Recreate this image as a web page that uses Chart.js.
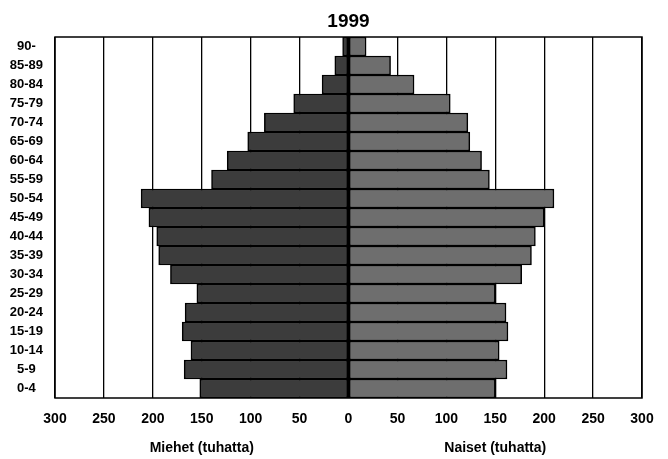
<!DOCTYPE html>
<html>
<head>
<meta charset="utf-8">
<script src="https://cdn.jsdelivr.net/npm/chart.js@4/dist/chart.umd.min.js"></script>
<style>
    html, body { margin: 0; padding: 0; background: #fff; }
    #wrap { width: 668px; height: 459px; position: relative; }
</style>
</head>
<body>
<div id="wrap"><canvas id="pyramid"></canvas></div>
<script>
// Ikäryhmät ylhäältä alas
const ageGroups = ['90-', '85-89', '80-84', '75-79', '70-74', '65-69', '60-64', '55-59', '50-54',
    '45-49', '40-44', '35-39', '30-34', '25-29', '20-24', '15-19', '10-14', '5-9', '0-4'];
// tuhatta henkeä
const men = [6, 14, 27, 56, 86, 103, 124, 140, 212, 204, 196, 194, 182, 155, 167, 170, 161, 168, 152];
const women = [18, 43, 67, 104, 122, 124, 136, 144, 210, 200, 191, 187, 177, 150, 161, 163, 154, 162, 150];
const xTicks = [-300, -250, -200, -150, -100, -50, 0, 50, 100, 150, 200, 250, 300];

const font = "'Liberation Sans', Arial, sans-serif";

// kehys, otsikko ja akselien nimet
const frameAndTitles = {
    id: 'frameAndTitles',
    afterDraw: function (chart) {
        const ctx = chart.ctx;
        const a = chart.chartArea;
        const x = chart.scales.x;
        ctx.save();
        ctx.strokeStyle = '#000';
        ctx.lineWidth = 1.5;
        ctx.strokeRect(a.left, a.top, a.right - a.left, a.bottom - a.top);
        ctx.fillStyle = '#000';
        ctx.textAlign = 'center';
        ctx.textBaseline = 'middle';
        ctx.font = 'bold 19px ' + font;
        ctx.fillText('1999', x.getPixelForValue(0), 22);
        ctx.font = 'bold 14px ' + font;
        ctx.fillText('Miehet (tuhatta)', x.getPixelForValue(-150), 448);
        ctx.fillText('Naiset (tuhatta)', x.getPixelForValue(150), 448);
        ctx.restore();
    }
};

new Chart(document.getElementById('pyramid').getContext('2d'), {
    type: 'bar',
    data: {
        labels: ageGroups,
        datasets: [
            {
                label: 'Miehet',
                data: men.map(function (v) { return -v; }),
                backgroundColor: '#3c3c3c',
                borderColor: '#000',
                borderWidth: 1.5,
                borderSkipped: false,
            },
            {
                label: 'Naiset',
                data: women,
                backgroundColor: '#6e6e6e',
                borderColor: '#000',
                borderWidth: 1.5,
                borderSkipped: false,
            },
        ],
    },
    options: {
        indexAxis: 'y',
        responsive: true,
        maintainAspectRatio: false,
        animation: false,
        layout: { padding: { left: 0, right: 26, top: 37, bottom: 0 } },
        datasets: { bar: { categoryPercentage: 1, barPercentage: 1 } },
        plugins: {
            legend: { display: false },
            tooltip: { enabled: false },
            title: { display: false },
        },
        scales: {
            x: {
                stacked: true,
                min: -300,
                max: 300,
                afterBuildTicks: function (scale) {
                    scale.ticks = xTicks.map(function (v) { return { value: v }; });
                },
                afterFit: function (scale) { scale.height = 61; },
                grid: { color: '#000', lineWidth: 1.3, drawTicks: false },
                border: { display: false },
                ticks: {
                    color: '#000',
                    padding: 13,
                    font: { family: font, size: 14, weight: 'bold' },
                    callback: function (v) { return Math.abs(v); },
                },
            },
            y: {
                stacked: true,
                afterFit: function (scale) { scale.width = 55; },
                grid: { display: false, drawTicks: false },
                border: { display: false },
                ticks: {
                    color: '#000',
                    autoSkip: false,
                    crossAlign: 'center',
                    padding: 12,
                    font: { family: font, size: 13, weight: 'bold' },
                },
            },
        },
    },
    plugins: [frameAndTitles],
});
</script>
</body>
</html>
